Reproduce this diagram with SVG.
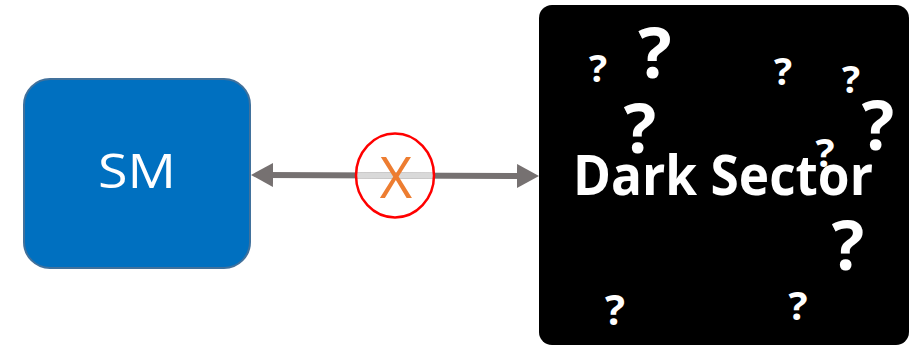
<svg xmlns="http://www.w3.org/2000/svg" width="913" height="346" viewBox="0 0 913 346">
<style>
.q{font-family:"Open Sans","DejaVu Sans",sans-serif;font-weight:bold;fill:#fff;text-anchor:middle}
.lbl{font-family:"Open Sans","DejaVu Sans",sans-serif;fill:#fff;text-anchor:middle}
</style>
<defs>
<marker id="ah" markerUnits="userSpaceOnUse" markerWidth="22" markerHeight="24" viewBox="0 0 22 24" refX="8" refY="12" orient="auto-start-reverse">
<path d="M0,0 L22,12 L0,24 Z" fill="#767171"/>
</marker>
</defs>
<rect width="913" height="346" fill="#fff"/>
<g id="sm">
<rect x="24" y="79" width="226" height="189" rx="26" fill="#0070C0" stroke="#41719C" stroke-width="2"/>
<text class="lbl" x="137" y="188" font-size="47" textLength="78" lengthAdjust="spacingAndGlyphs">SM</text>
</g>
<g id="dark-sector">
<rect x="539" y="5" width="370" height="340" rx="13" fill="#000"/>
<text class="q" x="598" y="82" font-size="38">?</text>
<text class="q" x="655" y="78" font-size="70">?</text>
<text class="q" x="783" y="85" font-size="38">?</text>
<text class="q" x="851" y="93" font-size="38">?</text>
<text class="q" x="640" y="153" font-size="68">?</text>
<text class="q" x="878" y="150" font-size="68">?</text>
<text class="q" x="825" y="167" font-size="40">?</text>
<text class="q" x="848" y="270" font-size="68">?</text>
<text class="q" x="615" y="325" font-size="42">?</text>
<text class="q" x="798" y="320" font-size="40">?</text>
<text class="q" x="723" y="195" font-size="56" textLength="300" lengthAdjust="spacingAndGlyphs">Dark Sector</text>
</g>
<g id="connectors">
<line x1="265" y1="175" x2="525" y2="176" stroke="#767171" stroke-width="6" marker-start="url(#ah)" marker-end="url(#ah)"/>
<line x1="356" y1="175.35" x2="433" y2="175.65" stroke="#D9D9D9" stroke-width="6"/>
<ellipse cx="395" cy="175.5" rx="39" ry="42" fill="none" stroke="#FF0000" stroke-width="2.5"/>
<text x="396" y="198" font-family="'Open Sans','DejaVu Sans',sans-serif" font-size="56" fill="#ED7D31" text-anchor="middle">X</text>
</g>
</svg>
